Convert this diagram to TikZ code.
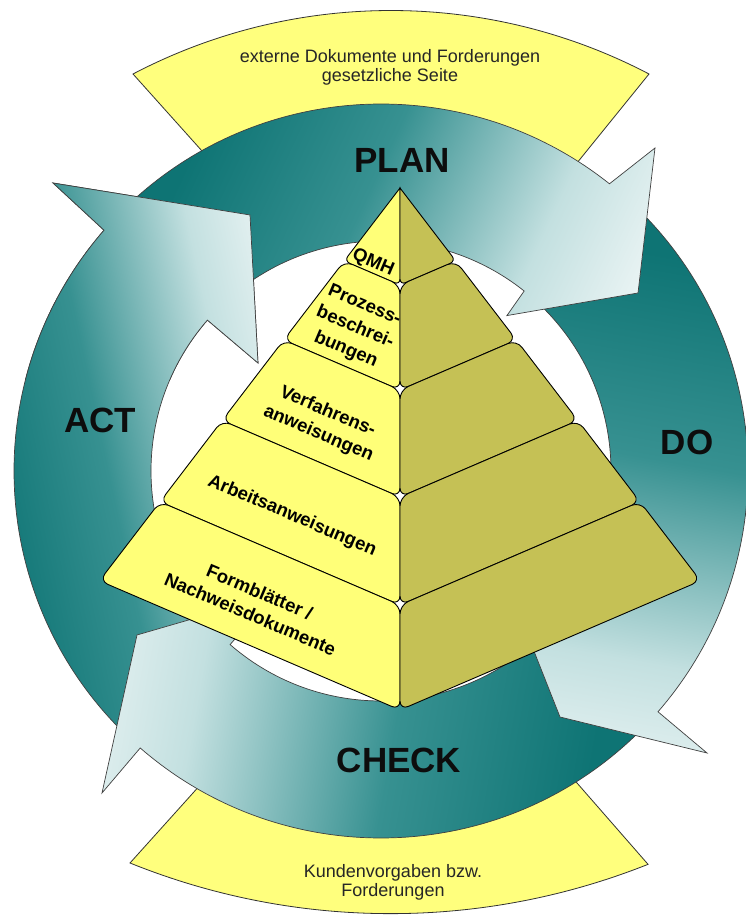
\documentclass[tikz,border=0pt]{standalone}
\usepackage{fontspec}
\setmainfont{Liberation Sans}
\usetikzlibrary{calc}
\definecolor{tealdark}{RGB}{14,116,116}
\definecolor{tealmid}{RGB}{55,145,145}
\definecolor{teallight}{RGB}{195,224,224}
\definecolor{tealwhite}{RGB}{248,251,251}
\definecolor{bandyellow}{RGB}{255,255,125}
\definecolor{pyrleft}{RGB}{255,255,120}
\definecolor{pyrright}{RGB}{197,193,85}
\pgfdeclareverticalshading{ringshade}{100bp}{color(0bp)=(tealdark); color(28bp)=(tealdark); color(48bp)=(tealmid); color(68bp)=(teallight); color(85bp)=(tealwhite); color(100bp)=(tealwhite)}
\begin{document}
\begin{tikzpicture}[x=1pt,y=1pt,
  band/.style={draw=black!80, line width=0.8pt, fill=bandyellow},
  arrowbody/.style={draw=black!75, line width=0.7pt, shade, shading=ringshade},
  lefttile/.style={draw=black, line width=0.9pt, fill=pyrleft},
  righttile/.style={draw=black, line width=0.9pt, fill=pyrright},
  biglabel/.style={font=\bfseries\fontsize{35}{40}\selectfont, anchor=base, inner sep=0pt, text=black!95},
  tilelabel/.style={font=\bfseries\fontsize{18.5}{24}\selectfont, align=center, rotate=-23, inner sep=0pt},
  bandlabel/.style={font=\fontsize{18}{19}\selectfont, align=center, inner sep=0pt, text=black!85}]
\useasboundingbox (0,0) rectangle (746,920);
\clip (0,0) rectangle (746,920);
\fill[white] (0,0) rectangle (746,920);
\coordinate (C) at (381,449);

% yellow bands
\draw[band] (133,846) arc[start angle=117.65, end angle=62.35, radius=556] -- (581,762) -- (564,741) -- (216,753) -- (202,769) -- cycle;
\draw[band] (130,57) arc[start angle=248.0, end angle=291.7, radius=696] -- (577,137) -- (563,153) -- (207,143) -- (193,127) -- cycle;

% ACT arrow
\path[arrowbody, shading angle=-78] ($(C)+(139:367)$) -- (53,737) -- (250,705) -- (258,557) -- ($(C)+(139:230)$) arc[start angle=139, end angle=225, radius=230] -- ($(C)+(225:367)$) arc[start angle=225, end angle=139, radius=367] -- cycle;
% CHECK arrow
\path[arrowbody, shading angle=80] ($(C)+(229:367)$) -- (102,127) -- (137,285) -- (272.8,324.5) -- ($(C)+(229:230)$) arc[start angle=229, end angle=316, radius=230] -- ($(C)+(316:367)$) arc[start angle=316, end angle=229, radius=367] -- cycle;
% DO arrow
\path[arrowbody, shading angle=170] ($(C)+(-41:367)$) -- (707,167) -- (560,203) -- (505.5,340.8) -- ($(C)+(-41:230)$) arc[start angle=-41, end angle=47, radius=230] -- ($(C)+(47:367)$) arc[start angle=47, end angle=-41, radius=367] -- cycle;
% PLAN arrow
\path[arrowbody, shading angle=-115] ($(C)+(51.5:367)$) -- (655,772) -- (638,627) -- (506.9,604.4) -- ($(C)+(51.5:230)$) arc[start angle=51.5, end angle=135, radius=230] -- ($(C)+(135:367)$) arc[start angle=135, end angle=51.5, radius=367] -- cycle;
% ACT head again, over the PLAN tail
\begin{scope}
\clip (0,540) rectangle (300,770);
\path[arrowbody, shading angle=-78] ($(C)+(139:367)$) -- (53,737) -- (250,705) -- (258,557) -- ($(C)+(139:230)$) arc[start angle=139, end angle=225, radius=230] -- ($(C)+(225:367)$) arc[start angle=225, end angle=139, radius=367] -- cycle;
\end{scope}

% pyramid
\coordinate (M0) at (400,732);
\coordinate (M1) at (400,635);
\coordinate (M2) at (400,530);
\coordinate (M3) at (400,423);
\coordinate (M4) at (400,315);
\coordinate (M5) at (400,210);
\coordinate (L1) at (344.2,659);
\coordinate (L2) at (283.7,580);
\coordinate (L3) at (222.1,499.5);
\coordinate (L4) at (160,418.2);
\coordinate (L5) at (99.5,339.2);
\coordinate (R1) at (455.8,659);
\coordinate (R2) at (516.3,580);
\coordinate (R3) at (577.9,499.5);
\coordinate (R4) at (640,418.2);
\coordinate (R5) at (700.5,339.2);

\draw[lefttile] (M0) [rounded corners=6pt] -- (L1) -- (M1) [sharp corners] -- cycle;
\draw[righttile] (M0) [rounded corners=6pt] -- (R1) -- (M1) [sharp corners] -- cycle;
\foreach \a/\b in {1/2,2/3,3/4,4/5}{
  \draw[lefttile, rounded corners=9pt] (M\a) -- (L\a) -- (L\b) -- (M\b) -- cycle;
  \draw[righttile, rounded corners=9pt] (M\a) -- (R\a) -- (R\b) -- (M\b) -- cycle;
}

% labels
\node[biglabel] (plan) at (402,747) {PLAN};
\node[biglabel] (do) at (687,465) {DO};
\node[biglabel] (check) at (399,147) {CHECK};
\node[biglabel] (act) at (100,487) {ACT};

\node[tilelabel] (qmh) at (373,657) {QMH};
\node[tilelabel] (proz) at (355,592) {Prozess-\\beschrei-\\bungen};
\node[tilelabel] (verf) at (323,497) {Verfahrens-\\anweisungen};
\node[tilelabel] (arb) at (292,404) {Arbeitsanweisungen};
\node[tilelabel] (form) at (255,317) {Formblätter /\\Nachweisdokumente};

\node[bandlabel] (ext) at (390,853) {externe Dokumente und Forderungen\\gesetzliche Seite};
\node[bandlabel] (kund) at (393,38) {Kundenvorgaben bzw.\\Forderungen};
\end{tikzpicture}
\end{document}
